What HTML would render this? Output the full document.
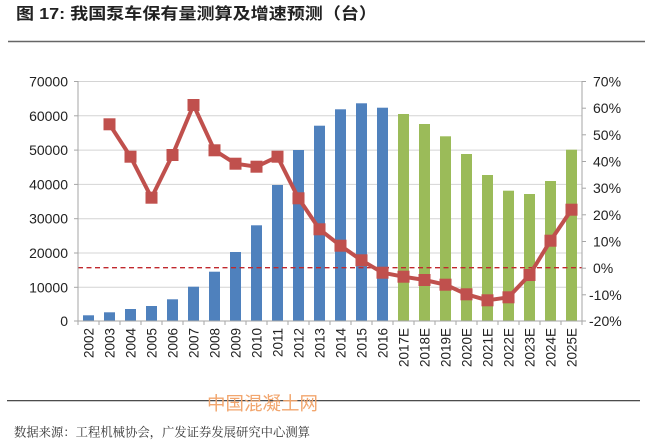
<!DOCTYPE html>
<html>
<head>
<meta charset="utf-8">
<style>
html,body{margin:0;padding:0;background:#fff;}
body{width:649px;height:445px;overflow:hidden;position:relative;}
svg{position:absolute;left:0;top:0;}
</style>
</head>
<body>
<svg width="649" height="445" viewBox="0 0 649 445" xmlns="http://www.w3.org/2000/svg">
  <!-- Title -->
  <text x="16" y="19" font-family="'Liberation Sans','Noto Sans CJK SC',sans-serif" font-size="16" font-weight="bold" fill="#222" textLength="361" lengthAdjust="spacingAndGlyphs">图 17: 我国泵车保有量测算及增速预测（台）</text>
  <line x1="8" y1="41.5" x2="645" y2="41.5" stroke="#666" stroke-width="1.4"/>

  <!-- gridlines -->
  <g stroke="#d4d4d4" stroke-width="1">
    <line x1="78" y1="81.5" x2="582" y2="81.5"/>
    <line x1="78" y1="115.8" x2="582" y2="115.8"/>
    <line x1="78" y1="150.1" x2="582" y2="150.1"/>
    <line x1="78" y1="184.4" x2="582" y2="184.4"/>
    <line x1="78" y1="218.7" x2="582" y2="218.7"/>
    <line x1="78" y1="253" x2="582" y2="253"/>
    <line x1="78" y1="287.3" x2="582" y2="287.3"/>
  </g>

  <!-- bars -->
  <g fill="#4f81bd">
    <rect x="83" y="315.3" width="11" height="5.7"/>
    <rect x="104" y="312.3" width="11" height="8.7"/>
    <rect x="125" y="309" width="11" height="12"/>
    <rect x="146" y="306" width="11" height="15"/>
    <rect x="167" y="299.3" width="11" height="21.7"/>
    <rect x="188" y="286.7" width="11" height="34.3"/>
    <rect x="209" y="271.7" width="11" height="49.3"/>
    <rect x="230" y="252" width="11" height="69"/>
    <rect x="251" y="225.3" width="11" height="95.7"/>
    <rect x="272" y="185" width="11" height="136"/>
    <rect x="293" y="150" width="11" height="171"/>
    <rect x="314" y="125.7" width="11" height="195.3"/>
    <rect x="335" y="109.3" width="11" height="211.7"/>
    <rect x="356" y="103.3" width="11" height="217.7"/>
    <rect x="377" y="107.7" width="11" height="213.3"/>
  </g>
  <g fill="#9bbb59">
    <rect x="398" y="114" width="11" height="207"/>
    <rect x="419" y="124" width="11" height="197"/>
    <rect x="440" y="136.3" width="11" height="184.7"/>
    <rect x="461" y="154" width="11" height="167"/>
    <rect x="482" y="175" width="11" height="146"/>
    <rect x="503" y="190.7" width="11" height="130.3"/>
    <rect x="524" y="194" width="11" height="127"/>
    <rect x="545" y="181" width="11" height="140"/>
    <rect x="566" y="149.7" width="11" height="171.3"/>
  </g>

  <!-- zero dashed line -->
  <line x1="78" y1="267.7" x2="582" y2="267.7" stroke="#c0282d" stroke-width="1.3" stroke-dasharray="5,3.5"/>

  <!-- axes -->
  <g stroke="#a6a6a6" stroke-width="1">
    <line x1="78" y1="81" x2="78" y2="321"/>
    <line x1="582" y1="81" x2="582" y2="321"/>
    <line x1="78" y1="321" x2="582" y2="321"/>
    <!-- left ticks -->
    <line x1="74" y1="81.5" x2="78" y2="81.5"/>
    <line x1="74" y1="115.8" x2="78" y2="115.8"/>
    <line x1="74" y1="150.1" x2="78" y2="150.1"/>
    <line x1="74" y1="184.4" x2="78" y2="184.4"/>
    <line x1="74" y1="218.7" x2="78" y2="218.7"/>
    <line x1="74" y1="253" x2="78" y2="253"/>
    <line x1="74" y1="287.3" x2="78" y2="287.3"/>
    <line x1="74" y1="321" x2="78" y2="321"/>
    <!-- right ticks -->
    <line x1="582" y1="81.5" x2="586" y2="81.5"/>
    <line x1="582" y1="108.2" x2="586" y2="108.2"/>
    <line x1="582" y1="134.8" x2="586" y2="134.8"/>
    <line x1="582" y1="161.5" x2="586" y2="161.5"/>
    <line x1="582" y1="188.2" x2="586" y2="188.2"/>
    <line x1="582" y1="214.8" x2="586" y2="214.8"/>
    <line x1="582" y1="241.5" x2="586" y2="241.5"/>
    <line x1="582" y1="268.2" x2="586" y2="268.2"/>
    <line x1="582" y1="294.8" x2="586" y2="294.8"/>
    <line x1="582" y1="321" x2="586" y2="321"/>
    <!-- bottom ticks -->
    <line x1="99" y1="321" x2="99" y2="325"/>
    <line x1="120" y1="321" x2="120" y2="325"/>
    <line x1="141" y1="321" x2="141" y2="325"/>
    <line x1="162" y1="321" x2="162" y2="325"/>
    <line x1="183" y1="321" x2="183" y2="325"/>
    <line x1="204" y1="321" x2="204" y2="325"/>
    <line x1="225" y1="321" x2="225" y2="325"/>
    <line x1="246" y1="321" x2="246" y2="325"/>
    <line x1="267" y1="321" x2="267" y2="325"/>
    <line x1="288" y1="321" x2="288" y2="325"/>
    <line x1="309" y1="321" x2="309" y2="325"/>
    <line x1="330" y1="321" x2="330" y2="325"/>
    <line x1="351" y1="321" x2="351" y2="325"/>
    <line x1="372" y1="321" x2="372" y2="325"/>
    <line x1="393" y1="321" x2="393" y2="325"/>
    <line x1="414" y1="321" x2="414" y2="325"/>
    <line x1="435" y1="321" x2="435" y2="325"/>
    <line x1="456" y1="321" x2="456" y2="325"/>
    <line x1="477" y1="321" x2="477" y2="325"/>
    <line x1="498" y1="321" x2="498" y2="325"/>
    <line x1="519" y1="321" x2="519" y2="325"/>
    <line x1="540" y1="321" x2="540" y2="325"/>
    <line x1="561" y1="321" x2="561" y2="325"/>
    <line x1="78" y1="321" x2="78" y2="325"/>
    <line x1="582" y1="321" x2="582" y2="325"/>
  </g>

  <!-- growth line -->
  <polyline fill="none" stroke="#c0504d" stroke-width="4" stroke-linejoin="round"
    points="109.5,124.3 130.5,156.7 151.5,197.7 172.5,155 193.5,105 214.5,150.3 235.5,163.7 256.5,166.7 277.5,156.7 298.5,198.3 319.5,229.3 340.5,245.7 361.5,260.3 382.5,272.7 403.5,276.7 424.5,280 445.5,284.7 466.5,294.3 487.5,300.3 508.5,297.3 529.5,275 550.5,240.7 571.5,209.7"/>
  <g fill="#c0504d">
    <rect x="103.5" y="118.3" width="12" height="12"/>
    <rect x="124.5" y="150.7" width="12" height="12"/>
    <rect x="145.5" y="191.7" width="12" height="12"/>
    <rect x="166.5" y="149" width="12" height="12"/>
    <rect x="187.5" y="99" width="12" height="12"/>
    <rect x="208.5" y="144.3" width="12" height="12"/>
    <rect x="229.5" y="157.7" width="12" height="12"/>
    <rect x="250.5" y="160.7" width="12" height="12"/>
    <rect x="271.5" y="150.7" width="12" height="12"/>
    <rect x="292.5" y="192.3" width="12" height="12"/>
    <rect x="313.5" y="223.3" width="12" height="12"/>
    <rect x="334.5" y="239.7" width="12" height="12"/>
    <rect x="355.5" y="254.3" width="12" height="12"/>
    <rect x="376.5" y="266.7" width="12" height="12"/>
    <rect x="397.5" y="270.7" width="12" height="12"/>
    <rect x="418.5" y="274" width="12" height="12"/>
    <rect x="439.5" y="278.7" width="12" height="12"/>
    <rect x="460.5" y="288.3" width="12" height="12"/>
    <rect x="481.5" y="294.3" width="12" height="12"/>
    <rect x="502.5" y="291.3" width="12" height="12"/>
    <rect x="523.5" y="269" width="12" height="12"/>
    <rect x="544.5" y="234.7" width="12" height="12"/>
    <rect x="565.5" y="203.7" width="12" height="12"/>
  </g>

  <!-- left axis labels -->
  <g font-family="'Liberation Sans',sans-serif" font-size="14" fill="#222" text-anchor="end">
    <text x="68" y="86.5">70000</text>
    <text x="68" y="120.8">60000</text>
    <text x="68" y="155.1">50000</text>
    <text x="68" y="189.4">40000</text>
    <text x="68" y="223.7">30000</text>
    <text x="68" y="258">20000</text>
    <text x="68" y="292.3">10000</text>
    <text x="68" y="326">0</text>
  </g>
  <!-- right axis labels -->
  <g font-family="'Liberation Sans',sans-serif" font-size="14" fill="#222" text-anchor="start">
    <text x="593" y="86.5">70%</text>
    <text x="593" y="113.2">60%</text>
    <text x="593" y="139.8">50%</text>
    <text x="593" y="166.5">40%</text>
    <text x="593" y="193.2">30%</text>
    <text x="593" y="219.8">20%</text>
    <text x="593" y="246.5">10%</text>
    <text x="593" y="273.2">0%</text>
    <text x="589" y="299.8">-10%</text>
    <text x="589" y="326">-20%</text>
  </g>

  <!-- x labels -->
  <g font-family="'Liberation Sans',sans-serif" font-size="13.5" fill="#222" text-anchor="end">
    <text transform="translate(93.5,328) rotate(-90)">2002</text>
    <text transform="translate(114.5,328) rotate(-90)">2003</text>
    <text transform="translate(135.5,328) rotate(-90)">2004</text>
    <text transform="translate(156.5,328) rotate(-90)">2005</text>
    <text transform="translate(177.5,328) rotate(-90)">2006</text>
    <text transform="translate(198.5,328) rotate(-90)">2007</text>
    <text transform="translate(219.5,328) rotate(-90)">2008</text>
    <text transform="translate(240.5,328) rotate(-90)">2009</text>
    <text transform="translate(261.5,328) rotate(-90)">2010</text>
    <text transform="translate(282.5,328) rotate(-90)">2011</text>
    <text transform="translate(303.5,328) rotate(-90)">2012</text>
    <text transform="translate(324.5,328) rotate(-90)">2013</text>
    <text transform="translate(345.5,328) rotate(-90)">2014</text>
    <text transform="translate(366.5,328) rotate(-90)">2015</text>
    <text transform="translate(387.5,328) rotate(-90)">2016</text>
    <text transform="translate(408.5,328) rotate(-90)">2017E</text>
    <text transform="translate(429.5,328) rotate(-90)">2018E</text>
    <text transform="translate(450.5,328) rotate(-90)">2019E</text>
    <text transform="translate(471.5,328) rotate(-90)">2020E</text>
    <text transform="translate(492.5,328) rotate(-90)">2021E</text>
    <text transform="translate(513.5,328) rotate(-90)">2022E</text>
    <text transform="translate(534.5,328) rotate(-90)">2023E</text>
    <text transform="translate(555.5,328) rotate(-90)">2024E</text>
    <text transform="translate(576.5,328) rotate(-90)">2025E</text>
  </g>

  <!-- bottom rule -->
  <line x1="7" y1="400.7" x2="640" y2="400.7" stroke="#333" stroke-width="1.2"/>
  <!-- watermark -->
  <text x="207" y="410" font-family="'Liberation Sans','Noto Sans CJK SC',sans-serif" font-size="18.5" fill="#f2a66e" textLength="111" lengthAdjust="spacingAndGlyphs">中国混凝土网</text>
  <!-- source -->
  <text x="14" y="436.5" font-family="'Liberation Serif','Noto Serif CJK SC',serif" font-size="12.3" fill="#333" textLength="296" lengthAdjust="spacingAndGlyphs">数据来源：工程机械协会，广发证券发展研究中心测算</text>
</svg>
</body>
</html>
